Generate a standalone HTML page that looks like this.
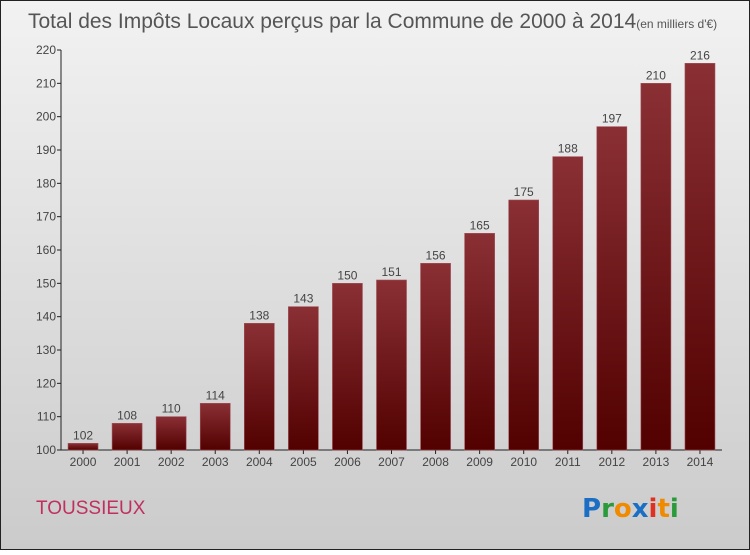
<!DOCTYPE html>
<html><head><meta charset="utf-8"><style>
body{margin:0}
#c{width:750px;height:550px;position:relative;font-family:"Liberation Sans",sans-serif}
</style></head><body>
<div id="c">
<svg id="s" width="750" height="550" xmlns="http://www.w3.org/2000/svg">
<defs>
<linearGradient id="bg" x1="0" y1="0" x2="0" y2="1"><stop offset="0" stop-color="#f2f2f2"/><stop offset="1" stop-color="#cbcbcb"/></linearGradient>
<linearGradient id="bar" x1="0" y1="0" x2="0" y2="1"><stop offset="0" stop-color="#8a3035"/><stop offset="1" stop-color="#520000"/></linearGradient>
</defs>
<rect x="0.5" y="0.5" width="749" height="549" fill="url(#bg)" stroke="#222"/>
<text x="28" y="28" font-size="21" fill="#555">Total des Impôts Locaux perçus par la Commune de 2000 à 2014<tspan font-size="12">(en milliers d'€)</tspan></text>
<text x="36" y="514" font-size="19" fill="#c0305f">TOUSSIEUX</text>
<g font-size="26" font-weight="bold" font-family="'DejaVu Sans',sans-serif">
<text x="582" y="517"><tspan fill="#1a6fc4">P</tspan><tspan fill="#2a9a3a">r</tspan><tspan fill="#f08a00">o</tspan><tspan fill="#1a6fc4">x</tspan><tspan fill="#e03020">i</tspan><tspan fill="#f08a00">t</tspan><tspan fill="#2a9a3a">i</tspan></text>
</g>
<g id="axes"></g>
<g id="bars"></g>
</svg>
</div>
<script>
const years=["2000","2001","2002","2003","2004","2005","2006","2007","2008","2009","2010","2011","2012","2013","2014"];
const values=[102,108,110,114,138,143,150,151,156,165,175,188,197,210,216];
const yTicks=[100,110,120,130,140,150,160,170,180,190,200,210,220];
const NS="http://www.w3.org/2000/svg";
const x0=61,x1=722,yBase=450,yTop=50,vMin=100,vMax=220;
const step=(x1-x0)/years.length;
function xC(i){return x0+step*(i+0.5);}
function yS(v){return yBase-(v-vMin)/(vMax-vMin)*(yBase-yTop);}
function mk(t,a,p){const e=document.createElementNS(NS,t);for(const k in a)e.setAttribute(k,a[k]);p.appendChild(e);return e;}
const ax=document.getElementById('axes'),bs=document.getElementById('bars');
const yl=mk('line',{x1:x0,y1:yTop,x2:x0,y2:yBase,stroke:'#222'},ax);


const xl=mk('line',{x1:x0,y1:yBase,x2:x1,y2:yBase,stroke:'#222'},ax);


yTicks.forEach(v=>{
 const y=yS(v);
 mk('line',{x1:x0-4,y1:y,x2:x0,y2:y,stroke:'#222'},ax);
 const t=mk('text',{x:x0-5,y:y+4,'text-anchor':'end','font-size':12,fill:'#444'},ax);
 t.textContent=v;
 
 
});
years.forEach((yr,i)=>{
 const c=xC(i),v=values[i],y=yS(v);
 const r=mk('rect',{x:c-15,y:y,width:30,height:yBase-y,fill:'url(#bar)',stroke:'#a05058','stroke-width':0.6},bs);
 
 
 const l=mk('text',{x:c,y:y-4,'text-anchor':'middle','font-size':12,fill:'#444'},bs);
 l.textContent=v;
 
 
 mk('line',{x1:c,y1:yBase,x2:c,y2:yBase+4,stroke:'#222'},ax);
 const t=mk('text',{x:c,y:yBase+16,'text-anchor':'middle','font-size':12,fill:'#444'},ax);
 t.textContent=yr;
 
 
});
</script>
</body></html>
